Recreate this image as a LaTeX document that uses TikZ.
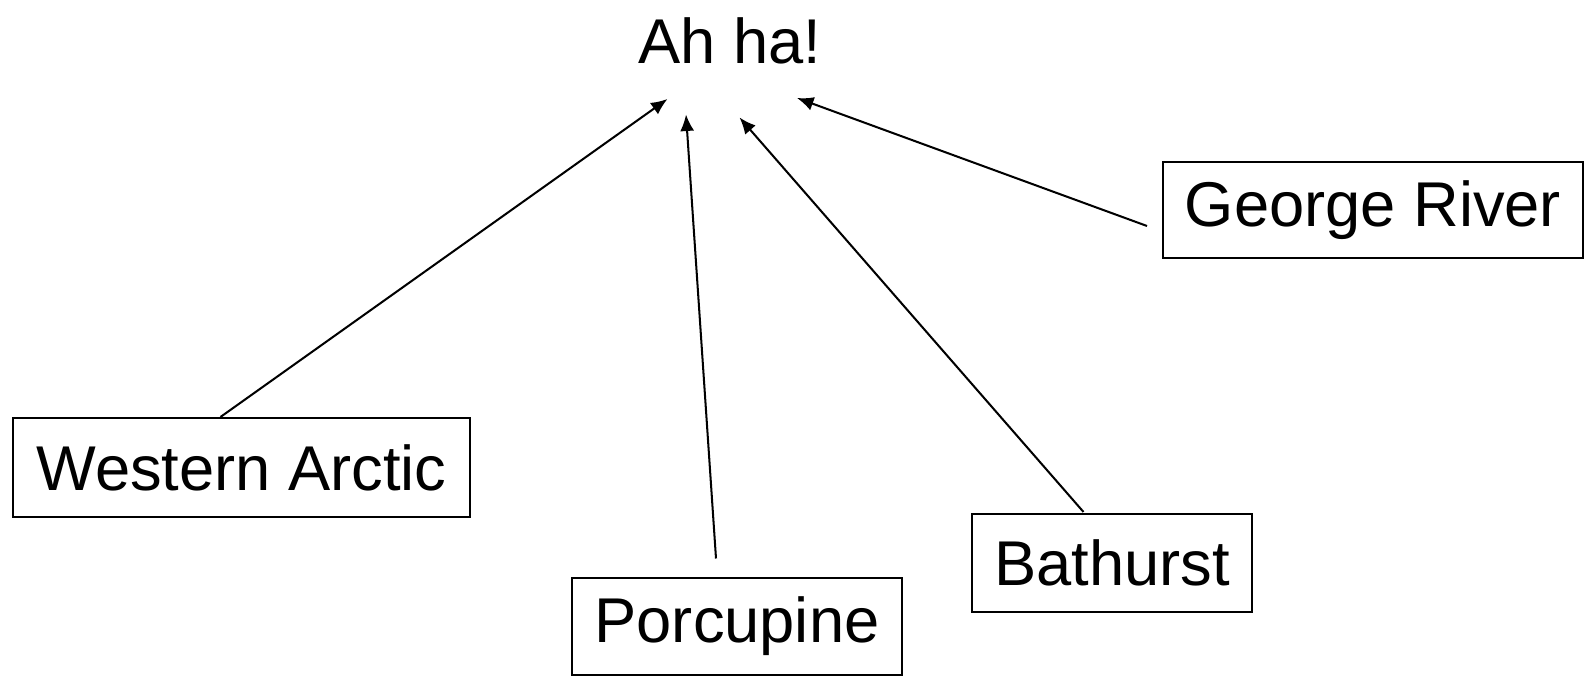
\documentclass[tikz,border=0pt]{standalone}
\usepackage{fontspec}
\setmainfont{Liberation Sans}
\usetikzlibrary{arrows.meta}
\begin{document}
\begin{tikzpicture}[line width=1.15pt, >={Latex[length=3.3mm,width=2.8mm]},
    main/.style = {draw, font=\fontsize{36}{40}\selectfont, inner sep=0pt},
    title/.style = {draw=none, font=\fontsize{36}{40}\selectfont}]
    \useasboundingbox (0,0) rectangle (31.7,13.52);
    \node[title] (0) at (14.6,12.71) {Ah ha!};
    \node[main, minimum width=9.14cm, minimum height=1.98cm] (1) at (4.83,4.17)  {Western Arctic};
    \node[main, minimum width=6.6cm,  minimum height=1.94cm] (2) at (14.74,0.99) {Porcupine};
    \node[main, minimum width=5.6cm,  minimum height=1.96cm] (3) at (22.24,2.26) {Bathurst};
    \node[main, minimum width=8.4cm,  minimum height=1.92cm] (4) at (27.46,9.32) {George River};

    % arrow heads stop short of the title
    \coordinate (a1) at (13.35,11.54);
    \coordinate (a2) at (13.72,11.23);
    \coordinate (a3) at (14.79,11.17);
    \coordinate (a4) at (15.94,11.56);

    \draw[->] ([xshift=-0.42cm]1.north) -- (a1);
    \draw[->] ([xshift=-0.42cm, yshift=0.37cm]2.north) -- (a2);
    \draw[->] ([xshift=-0.57cm, yshift=0.02cm]3.north) -- (a3);
    \draw[->] ([xshift=-0.3cm, yshift=-0.32cm]4.west) -- (a4);
\end{tikzpicture}
\end{document}
